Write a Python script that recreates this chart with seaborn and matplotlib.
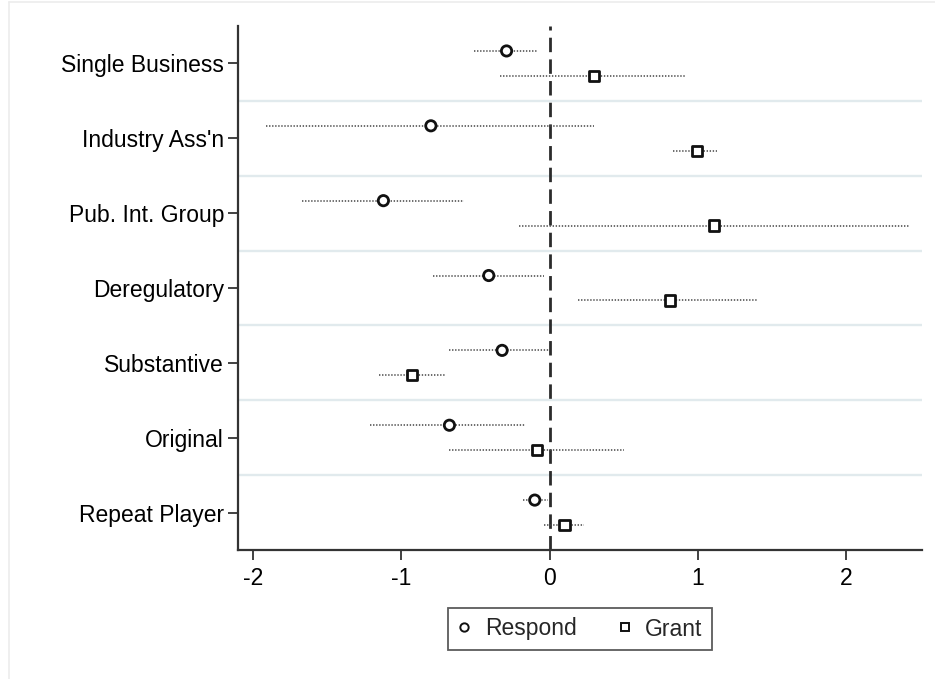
import matplotlib
matplotlib.use("Agg")
import matplotlib.pyplot as plt
from matplotlib.lines import Line2D
import numpy as np
import pandas as pd
import seaborn as sns

# Coefficient estimates with confidence bounds, by requester type
categories = ["Single Business", "Industry Ass'n", "Pub. Int. Group",
              "Deregulatory", "Substantive", "Original", "Repeat Player"]

respond_est = [-0.29, -0.80, -1.12, -0.41, -0.32, -0.675, -0.10]
respond_lo = [-0.51, -1.91, -1.67, -0.785, -0.68, -1.21, -0.18]
respond_hi = [-0.085, 0.30, -0.58, -0.04, 0.00, -0.165, -0.01]

grant_est = [0.30, 0.995, 1.11, 0.81, -0.925, -0.085, 0.10]
grant_lo = [-0.335, 0.83, -0.205, 0.19, -1.15, -0.68, -0.04]
grant_hi = [0.92, 1.13, 2.42, 1.40, -0.70, 0.50, 0.23]

x_ticks = [-2, -1, 0, 1, 2]

sns.set_theme(style="white")
plt.rcParams["font.family"] = ["Liberation Sans", "DejaVu Sans"]

# Long-format table: one row per (category, outcome)
rows = []
for i, cat in enumerate(categories):
    rows.append(dict(category=cat, idx=i, series="Respond", est=respond_est[i],
                     lo=respond_lo[i], hi=respond_hi[i], ypos=i - 1 / 6))
    rows.append(dict(category=cat, idx=i, series="Grant", est=grant_est[i],
                     lo=grant_lo[i], hi=grant_hi[i], ypos=i + 1 / 6))
df = pd.DataFrame(rows)

fig = plt.figure(figsize=(9.35, 6.79), dpi=100)
ax = fig.add_axes([238 / 935, 1 - 550 / 679, (922 - 238) / 935, (550 - 26) / 679])

# Band separators between categories
for k in range(len(categories) - 1):
    ax.axhline(k + 0.5, color="#e1eaed", lw=1.7, zorder=0)

# Reference line at zero
ax.axvline(0, color="#2b2b2b", lw=2.0, ls=(0, (5.2, 2.6)), zorder=1)

# Confidence intervals as dotted lines
ax.hlines(df["ypos"], df["lo"], df["hi"], colors="#444444", lw=1.1,
          linestyles=(0, (0.9, 1.1)), zorder=2)

# Point estimates
sns.scatterplot(data=df, x="est", y="ypos", style="series",
                markers={"Respond": "o", "Grant": "s"},
                color="white", edgecolor="#111111", linewidth=2.0, s=55,
                legend=False, ax=ax, zorder=3)

ax.set_xlim(-2.1, 2.51)
ax.set_ylim(len(categories) - 0.5, -0.5)
ax.set_xticks(x_ticks)
ax.set_xticklabels([str(t) for t in x_ticks])
ax.set_yticks(range(len(categories)))
ax.set_yticklabels(categories)
ax.set_xlabel("")
ax.set_ylabel("")

for side in ["top", "right"]:
    ax.spines[side].set_visible(False)
for side in ["left", "bottom"]:
    ax.spines[side].set_color("#333333")
    ax.spines[side].set_linewidth(1.6)

ax.tick_params(axis="both", which="major", labelsize=16.5, colors="#333333",
               labelcolor="black", length=7, width=1.3, direction="out")
ax.tick_params(axis="x", pad=5)
ax.tick_params(axis="y", pad=3)
ax.tick_params(left=True, bottom=True)

# Legend below the plot
handles = [
    Line2D([], [], ls="none", marker="o", markersize=6, markerfacecolor="white",
           markeredgecolor="#111111", markeredgewidth=1.4, label="Respond"),
    Line2D([], [], ls="none", marker="s", markersize=6, markerfacecolor="white",
           markeredgecolor="#111111", markeredgewidth=1.4, label="Grant"),
]
leg = fig.legend(handles=handles, loc="center", ncol=2,
                 bbox_to_anchor=(580 / 935, 1 - 629 / 679),
                 fontsize=16.5, frameon=True, fancybox=False,
                 handlelength=0.6, handletextpad=0.6, columnspacing=1.8,
                 borderpad=0.4)
leg.get_frame().set_edgecolor("#333333")
leg.get_frame().set_linewidth(1.3)

# Thin outer frame of the graph region
fig.add_artist(Line2D([8.5 / 935, 8.5 / 935], [0, 1 - 2 / 679],
                      transform=fig.transFigure, color="#ececec", lw=1.2))
fig.add_artist(Line2D([8.5 / 935, 1], [1 - 2 / 679, 1 - 2 / 679],
                      transform=fig.transFigure, color="#ececec", lw=1.2))

fig.savefig("out.png", dpi=100)
